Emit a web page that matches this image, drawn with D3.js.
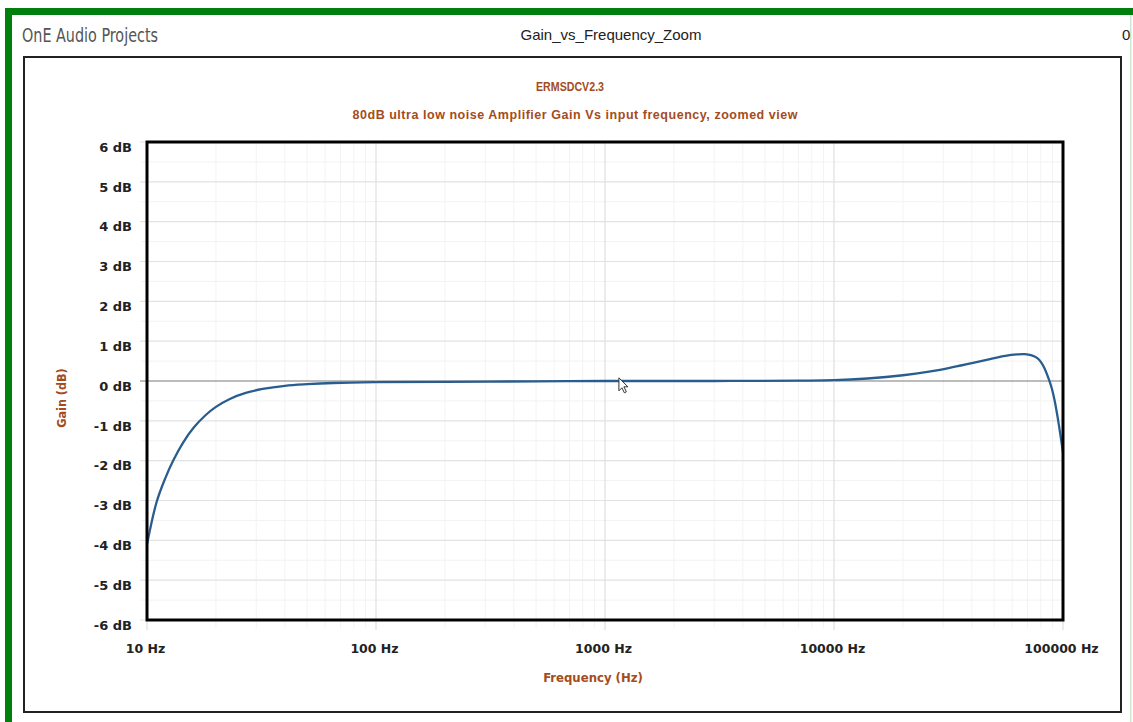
<!DOCTYPE html>
<html lang="en">

<head>
    <meta charset="UTF-8">
    <title>Gain_vs_Frequency_Zoom</title>
    <script src="https://cdn.jsdelivr.net/npm/d3@7"></script>
    <style>
        body { margin: 0; background: #fff; }
    </style>
</head>

<body>
    <div id="chart"></div>
</body>
<script>
    // curve (Hz, dB)
    var freqs = [10, 11, 12, 13, 14.4, 16, 18, 20, 23, 27, 32, 40, 50, 65, 100, 200, 500, 1000, 3000, 7000,
                 10000, 14000, 20000, 26000, 32000, 40000, 48000, 56000, 63000, 68000, 73000, 77000,
                 80000, 83000, 86000, 89000, 92000, 95000, 98000, 100000];
    var gains = [-4.1, -3.05, -2.45, -2.0, -1.54, -1.17, -0.86, -0.65, -0.45, -0.3, -0.2, -0.12, -0.08, -0.05, -0.03, -0.02, -0.01, 0, 0, 0.01,
                 0.02, 0.063, 0.144, 0.235, 0.33, 0.45, 0.55, 0.63, 0.667, 0.675, 0.645, 0.58,
                 0.48, 0.32, 0.1, -0.15, -0.5, -0.95, -1.45, -1.8];

    var xTicks = [10, 100, 1000, 10000, 100000];
    var yTicks = [-6, -5, -4, -3, -2, -1, 0, 1, 2, 3, 4, 5, 6];

    var brown = "#a44c20";
    var W = 1133, H = 722;

    var svg = d3.select("#chart").append("svg")
        .attr("width", W)
        .attr("height", H)
        .style("display", "block");

    // green frame
    svg.append("rect").attr("x", 5).attr("y", 8).attr("width", W - 5).attr("height", 7).attr("fill", "#007f0e");
    svg.append("rect").attr("x", 5).attr("y", 8).attr("width", 7).attr("height", H - 8).attr("fill", "#007f0e");
    svg.append("rect").attr("x", 1130).attr("y", 15).attr("width", 1.5).attr("height", H - 15).attr("fill", "#cfe6cf");

    // header
    svg.append("text").attr("x", 22).attr("y", 42)
        .attr("textLength", 136).attr("lengthAdjust", "spacingAndGlyphs")
        .style("font-family", "'DejaVu Sans Condensed', sans-serif").style("font-weight", 300)
        .style("font-size", "20px").attr("fill", "#555")
        .text("OnE Audio Projects");
    svg.append("text").attr("x", 611).attr("y", 40).attr("text-anchor", "middle")
        .style("font-family", "'Liberation Sans', Arial, sans-serif").style("font-size", "15px").attr("fill", "#222")
        .text("Gain_vs_Frequency_Zoom");
    svg.append("text").attr("x", 1122).attr("y", 40)
        .style("font-family", "'Liberation Sans', Arial, sans-serif").style("font-size", "15px").attr("fill", "#222")
        .text("0");

    // outer box
    svg.append("rect").attr("x", 24).attr("y", 57).attr("width", 1097).attr("height", 655)
        .attr("fill", "none").attr("stroke", "#222").attr("stroke-width", 2);

    // titles
    svg.append("text").attr("x", 570).attr("y", 91).attr("text-anchor", "middle")
        .attr("textLength", 68).attr("lengthAdjust", "spacingAndGlyphs")
        .style("font-family", "'Liberation Sans', Arial, sans-serif").style("font-weight", "bold")
        .style("font-size", "12px").attr("fill", brown)
        .text("ERMSDCV2.3");
    svg.append("text").attr("x", 575).attr("y", 119).attr("text-anchor", "middle")
        .attr("textLength", 445).attr("lengthAdjust", "spacing")
        .style("font-family", "'Liberation Sans', Arial, sans-serif").style("font-weight", "bold")
        .style("font-size", "12.5px").attr("fill", brown)
        .text("80dB ultra low noise Amplifier Gain Vs input frequency, zoomed view");

    // scales
    var x = d3.scaleLog().domain([10, 100000]).range([147, 1063]);
    var y = d3.scaleLinear().domain([-6, 6]).range([620, 142]);

    var grid = svg.append("g");

    // minor horizontal (half dB)
    grid.selectAll(".hmin")
        .data(d3.range(-5.5, 6, 1))
        .enter().append("line")
        .attr("x1", 141).attr("x2", x(100000))
        .attr("y1", function(d) { return y(d); }).attr("y2", function(d) { return y(d); })
        .attr("stroke", "#f2f2f2").attr("stroke-width", 1);

    // minor vertical
    var minorX = [];
    xTicks.slice(0, -1).forEach(function(d) {
        for (var k = 2; k < 10; k++) minorX.push(d * k);
    });
    grid.selectAll(".vmin")
        .data(minorX)
        .enter().append("line")
        .attr("x1", function(d) { return x(d); }).attr("x2", function(d) { return x(d); })
        .attr("y1", y(6)).attr("y2", 628)
        .attr("stroke", "#f3f3f3").attr("stroke-width", 1);

    // major horizontal
    grid.selectAll(".hmaj")
        .data(yTicks)
        .enter().append("line")
        .attr("x1", 140).attr("x2", x(100000))
        .attr("y1", function(d) { return y(d); }).attr("y2", function(d) { return y(d); })
        .attr("stroke", function(d) { return d === 0 ? "#7a7a7a" : "#e2e2e2"; })
        .attr("stroke-width", 1.2);

    // major vertical
    grid.selectAll(".vmaj")
        .data(xTicks)
        .enter().append("line")
        .attr("x1", function(d) { return x(d); }).attr("x2", function(d) { return x(d); })
        .attr("y1", y(6)).attr("y2", 630)
        .attr("stroke", "#e0e0e0").attr("stroke-width", 1.2);

    // y axis labels
    var yAxis = svg.append("g")
        .attr("transform", "translate(132,5)")
        .call(d3.axisLeft(y).tickValues(yTicks).tickSize(0).tickPadding(0)
            .tickFormat(function(d) { return d + " dB"; }));
    yAxis.select(".domain").remove();
    yAxis.selectAll("text")
        .style("font-family", "'DejaVu Sans', Verdana, sans-serif").style("font-weight", "bold")
        .style("font-size", "13px").attr("fill", "#222");

    // x axis labels
    var xAxis = svg.append("g")
        .attr("transform", "translate(-2,644)")
        .call(d3.axisBottom(x).tickValues(xTicks).tickSize(0).tickPadding(0)
            .tickFormat(function(d) { return d + " Hz"; }));
    xAxis.select(".domain").remove();
    xAxis.selectAll("text")
        .style("font-family", "'DejaVu Sans', Verdana, sans-serif").style("font-weight", "bold")
        .style("font-size", "12.5px").attr("fill", "#222");

    // axis titles
    svg.append("text").attr("x", 593).attr("y", 682).attr("text-anchor", "middle")
        .style("font-family", "'DejaVu Sans Condensed', sans-serif").style("font-weight", "bold")
        .style("font-size", "13px").attr("fill", brown)
        .text("Frequency (Hz)");
    svg.append("text").attr("text-anchor", "middle")
        .attr("transform", "translate(66,398) rotate(-90)")
        .style("font-family", "'DejaVu Sans Condensed', sans-serif").style("font-weight", "bold")
        .style("font-size", "12.5px").attr("fill", brown)
        .text("Gain (dB)");

    // curve
    var data = freqs.map(function(f, i) { return { f: f, g: gains[i] }; });
    var line = d3.line()
        .x(function(d) { return x(d.f); })
        .y(function(d) { return y(d.g); })
        .curve(d3.curveCatmullRom.alpha(0.5));
    svg.append("path")
        .datum(data)
        .attr("d", line)
        .attr("fill", "none")
        .attr("stroke", "#2a5d8f")
        .attr("stroke-width", 2.3);

    // plot frame
    svg.append("rect")
        .attr("x", x(10)).attr("y", y(6))
        .attr("width", x(100000) - x(10)).attr("height", y(-6) - y(6))
        .attr("fill", "none").attr("stroke", "#000").attr("stroke-width", 3);

    // mouse pointer left in the screenshot
    var cx = x(1150), cy = y(0.08);
    svg.append("path")
        .attr("transform", "translate(" + cx + "," + cy + ")")
        .attr("d", "M0,0 L0,13 L3,10 L5.5,15 L7.5,14 L5,9 L9,9 Z")
        .attr("fill", "#fff").attr("stroke", "#333").attr("stroke-width", 1);
</script>

</html>
